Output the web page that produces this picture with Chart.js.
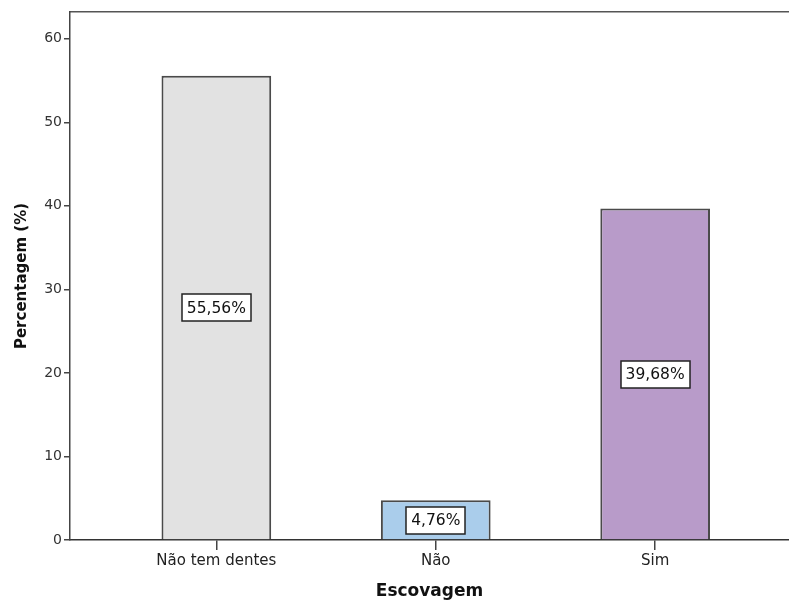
<!DOCTYPE html>
<html>
<head>
<meta charset="utf-8">
<script src="https://cdn.jsdelivr.net/npm/chart.js@4.4.1/dist/chart.umd.min.js"></script>
<style>
html,body{margin:0;padding:0;background:#fff;overflow:hidden;}
#wrap{width:789px;height:603px;position:relative;}
</style>
</head>
<body>
<div id="wrap"><canvas id="c"></canvas></div>
<script>
const categories = ['Não tem dentes', 'Não', 'Sim'];
const percentages = [55.56, 4.76, 39.68];
const valueLabels = ['55,56%', '4,76%', '39,68%'];
const yTicks = [0, 10, 20, 30, 40, 50, 60];
const barColors = ['#e2e2e2', '#aacdeb', '#b89bc9'];

const FONT = '"DejaVu Sans", sans-serif';

const labelPlugin = {
  id: 'boxLabels',
  afterDatasetsDraw(chart) {
    const ctx = chart.ctx;
    const meta = chart.getDatasetMeta(0);
    const ys = chart.scales.y;
    ctx.save();
    ctx.font = '15.5px ' + FONT;
    ctx.textAlign = 'center';
    ctx.textBaseline = 'middle';
    meta.data.forEach((bar, i) => {
      const x = bar.x;
      const y = ys.getPixelForValue(percentages[i] / 2);
      const t = valueLabels[i];
      const w = Math.round(ctx.measureText(t).width + 10);
      const h = 27;
      const bx = Math.round(x - w / 2), by = Math.round(y - h / 2);
      ctx.fillStyle = '#fff';
      ctx.fillRect(bx, by, w, h);
      ctx.strokeStyle = '#222';
      ctx.lineWidth = 1.5;
      ctx.strokeRect(bx, by, w, h);
      ctx.fillStyle = '#111';
      ctx.fillText(t, x, y + 1);
    });
    ctx.restore();
  }
};

new Chart(document.getElementById('c'), {
  type: 'bar',
  data: {
    datasets: [{
      data: percentages.map((v, i) => ({ x: i, y: v })),
      backgroundColor: barColors,
      borderColor: '#4a4a4a',
      borderWidth: 2,
      categoryPercentage: 0.5,
      barPercentage: 1.0
    }]
  },
  options: {
    responsive: true,
    maintainAspectRatio: false,
    animation: false,
    layout: { padding: 0 },
    plugins: { legend: { display: false }, tooltip: { enabled: false } },
    scales: {
      x: {
        type: 'linear',
        position: 'bottom',
        offset: false,
        min: -0.667,
        max: 2.61,
        afterBuildTicks(s) { s.ticks = categories.map((c, i) => ({ value: i })); },
        afterFit(s) { s.height = 63; },
        ticks: {
          autoSkip: false,
          maxRotation: 0,
          padding: 2,
          color: '#222',
          font: { family: FONT, size: 15 },
          callback: (v) => categories[v]
        },
        grid: { offset: false, drawOnChartArea: false, drawTicks: true, tickLength: 10, color: '#444', lineWidth: 1.5 },
        border: { display: true, color: '#333', width: 1.5 },
        title: {
          display: true, text: 'Escovagem', color: '#111',
          font: { family: FONT, size: 17, weight: 'bold' },
          padding: { top: 0, bottom: 1 }
        }
      },
      x2: {
        type: 'linear',
        position: 'top',
        min: 0, max: 1,
        afterFit(s) { s.height = 12; },
        ticks: { display: false },
        grid: { display: false, drawTicks: false },
        border: { display: true, color: '#555', width: 1.5 }
      },
      y: {
        min: 0,
        max: 63.2,
        afterBuildTicks(s) { s.ticks = yTicks.map(v => ({ value: v })); },
        afterFit(s) { s.width = 70; },
        ticks: {
          padding: 2,
          color: '#333',
          font: { family: FONT, size: 14 }
        },
        grid: { drawOnChartArea: false, drawTicks: true, tickLength: 6, color: '#444', lineWidth: 1.5 },
        border: { display: true, color: '#444', width: 1.5 },
        title: {
          display: true, text: 'Percentagem (%)', color: '#111',
          font: { family: FONT, size: 15, weight: 'bold' },
          padding: { top: 13, bottom: 0 }
        }
      }
    }
  },
  plugins: [labelPlugin]
});
</script>
</body>
</html>
